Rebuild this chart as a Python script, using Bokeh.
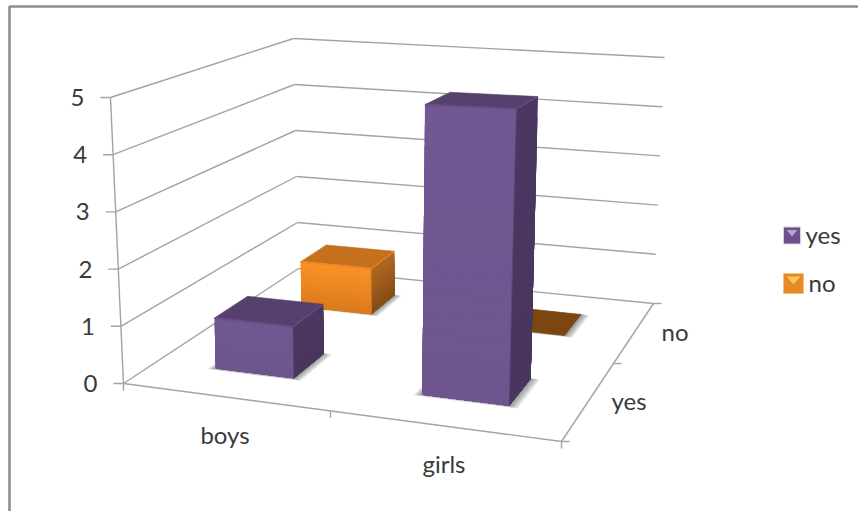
import numpy as np
from bokeh.plotting import figure
from bokeh.models import Range1d
from bokeh.core.properties import value
from bokeh.embed import file_html
from bokeh.resources import INLINE

categories = ["boys", "girls"]
series = ["yes", "no"]
yes_values = [1, 5]
no_values = [1, 0]
value_ticks = [0, 1, 2, 3, 4, 5]

W, H = 858, 511
FONT = value("Lato")
TXT = "#3a3a3a"
AXC = "#a3a3a3"

# picture corners of the box: front-left, front-right, back-right, back-left
VMAX = 5
floor_corners = np.array([(123, 383), (561, 441), (653, 303), (298, 268)], float)
top_corners = np.array([(110, 97), (572, 118), (664, 57), (293, 38)], float)
BEVEL_DROP = 0.1


def bil(q, u, w):
    return (1 - w) * ((1 - u) * q[0] + u * q[1]) + w * ((1 - u) * q[3] + u * q[2])


def ufun(c):
    return 0.0274 * c * c + 0.4452 * c


def wfun(s):
    return -0.065 * s * s + 0.63 * s


def P(c, s, v):
    u, w = ufun(c), wfun(s)
    a, b = bil(floor_corners, u, w), bil(top_corners, u, w)
    r = a + (b - a) * (v / VMAX)
    return float(r[0]), float(r[1])


p = figure(width=W, height=H, x_range=Range1d(0, W), y_range=Range1d(H, 0),
           output_backend="svg", toolbar_location=None, min_border=0,
           margin=(0, 0, 0, 0), background_fill_color="white")
p.axis.visible = False
p.grid.visible = False
p.outline_line_color = None


def seg(a, b, color=AXC, w=1.4):
    p.line([a[0], b[0]], [a[1], b[1]], line_color=color, line_width=w)


def poly(pts, color, alpha=1.0, stroke=True):
    xs = [q[0] for q in pts]
    ys = [q[1] for q in pts]
    p.patch(xs, ys, fill_color=color, fill_alpha=alpha,
            line_color=color if stroke else None, line_width=0.6, line_alpha=alpha)


# outer frame
p.line([9, 9, W], [H, 6, 6], line_color="#8f8f8f", line_width=2.6)

# walls and floor
for v in value_ticks:
    seg(P(0, 0, v), P(0, 2, v))
    seg(P(0, 2, v), P(2, 2, v))
seg(P(0, 0, 0), P(0, 0, VMAX))
seg(P(0, 0, 0), P(2, 0, 0))
seg(P(2, 0, 0), P(2, 2, 0))

# ticks
for v in value_ticks:
    x, y = P(0, 0, v)
    seg((x - 10, y), (x, y))
for c in (0, 1, 2):
    x, y = P(c, 0, 0)
    seg((x, y), (x, y + 7))
for s in (0, 1, 2):
    x, y = P(2, s, 0)
    seg((x, y), (x + 8, y))

# bar footprint half sizes in category / series units
HC, HS = 0.195, 0.18


def lerp(a, b, t):
    return tuple(int(round(a[i] + (b[i] - a[i]) * t)) for i in range(3))


def hexc(c):
    return "#%02x%02x%02x" % c


def shadow(c, s, color="#404040"):
    for d in (0.04, 0.028, 0.016, 0.006):
        poly([P(c - HC - d * 0.8, s - HS - d * 0.5, 0), P(c + HC + d, s - HS - d * 0.5, 0),
              P(c + HC + d, s + HS, 0), P(c - HC - d * 0.8, s + HS, 0)],
             color, 0.18, stroke=False)


def bar(c, s, v, front_top, front_bot, side_top, side_bot, top, bevel):
    c0, c1, s0, s1 = c - HC, c + HC, s - HS, s + HS
    shadow(c, s)
    if v <= 0:
        poly([P(c0, s0, 0), P(c1, s0, 0), P(c1, s1, 0), P(c0, s1, 0)], hexc(top))
        return
    vt = v - BEVEL_DROP
    n = 14
    for i in range(n):  # painted top-down, each band reaching the base, so no seams show
        t0 = i / n
        col = lerp(front_top, front_bot, (i + 0.5) / n)
        poly([P(c0, s0, vt * (1 - t0)), P(c1, s0, vt * (1 - t0)),
              P(c1, s0, 0), P(c0, s0, 0)], hexc(col), stroke=False)
        col = lerp(side_top, side_bot, (i + 0.5) / n)
        poly([P(c1, s0, vt * (1 - t0)), P(c1, s1, vt * (1 - t0)),
              P(c1, s1, 0), P(c1, s0, 0)], hexc(col), stroke=False)
    poly([P(c0, s0, vt), P(c1, s0, vt), P(c1, s1, vt), P(c0, s1, vt)], hexc(top))
    seg(P(c0, s0, vt), P(c1, s0, vt), hexc(bevel), 2.2)
    seg(P(c0, s0, vt), P(c0, s1, vt), hexc(bevel), 1.0)
    seg(P(c1, s0, vt), P(c1, s1, vt), hexc(bevel), 1.0)
    seg(P(c1, s0, vt), P(c1, s0, 0), hexc(lerp(front_top, side_top, 0.5)), 1.0)


PURPLE = dict(front_top=(113, 88, 146), front_bot=(110, 85, 142), side_top=(75, 56, 98),
              side_bot=(72, 54, 94), top=(86, 64, 110), bevel=(104, 80, 134))
ORANGE = dict(front_top=(252, 146, 38), front_bot=(218, 122, 28), side_top=(178, 104, 32),
              side_bot=(132, 76, 20), top=(196, 112, 28), bevel=(236, 138, 40))
BROWN = dict(ORANGE, top=(124, 70, 16))

centers = [0.5, 1.5]
S_YES, S_NO = 0.5, 1.5
for c, v in zip(centers, no_values):
    bar(c, S_NO, v, **(ORANGE if v else BROWN))
for c, v in zip(centers, yes_values):
    bar(c, S_YES, v, **PURPLE)

# axis labels
tick_x = [P(0, 0, v)[0] - 26 for v in value_ticks]
tick_y = [P(0, 0, v)[1] for v in value_ticks]
p.text(tick_x, tick_y, text=[str(v) for v in value_ticks], text_font=FONT, text_font_size="24px",
       text_color=TXT, text_align="right", text_baseline="middle")
cat_pts = [P(c, 0, 0) for c in centers]
p.text([q[0] + 1 for q in cat_pts], [q[1] + 38 for q in cat_pts], text=categories, text_font=FONT,
       text_font_size="24px", text_color=TXT, text_align="center", text_baseline="middle")
ser_pts = [P(2, s, 0) for s in (S_YES, S_NO)]
p.text([q[0] + 40 for q in ser_pts], [q[1] for q in ser_pts], text=series, text_font=FONT,
       text_font_size="24px", text_color=TXT, text_align="center", text_baseline="middle")

# legend
LEG_X = 783
leg_y = [235, 283]
leg_sz = [17, 20]
leg_col = [("#6a5089", "#b9a2d8"), ("#e58a24", "#fbc35e")]
for name, y, sz, (base, hi) in zip(series, leg_y, leg_sz, leg_col):
    p.quad(left=[LEG_X], right=[LEG_X + sz], top=[y - sz / 2], bottom=[y + sz / 2],
           fill_color=base, line_color="#d8d0e0" if name == "yes" else "#f5c080", line_width=1)
    p.patch([LEG_X + 3, LEG_X + sz - 3, LEG_X + sz / 2], [y - sz / 2 + 3] * 2 + [y + 1],
            fill_color=hi, line_color=None)
    p.text([LEG_X + sz + 5], [y - 1], text=[name], text_font=FONT, text_font_size="24px",
           text_color=TXT, text_align="left", text_baseline="middle")

open("out.html", "w").write(file_html(p, INLINE))
